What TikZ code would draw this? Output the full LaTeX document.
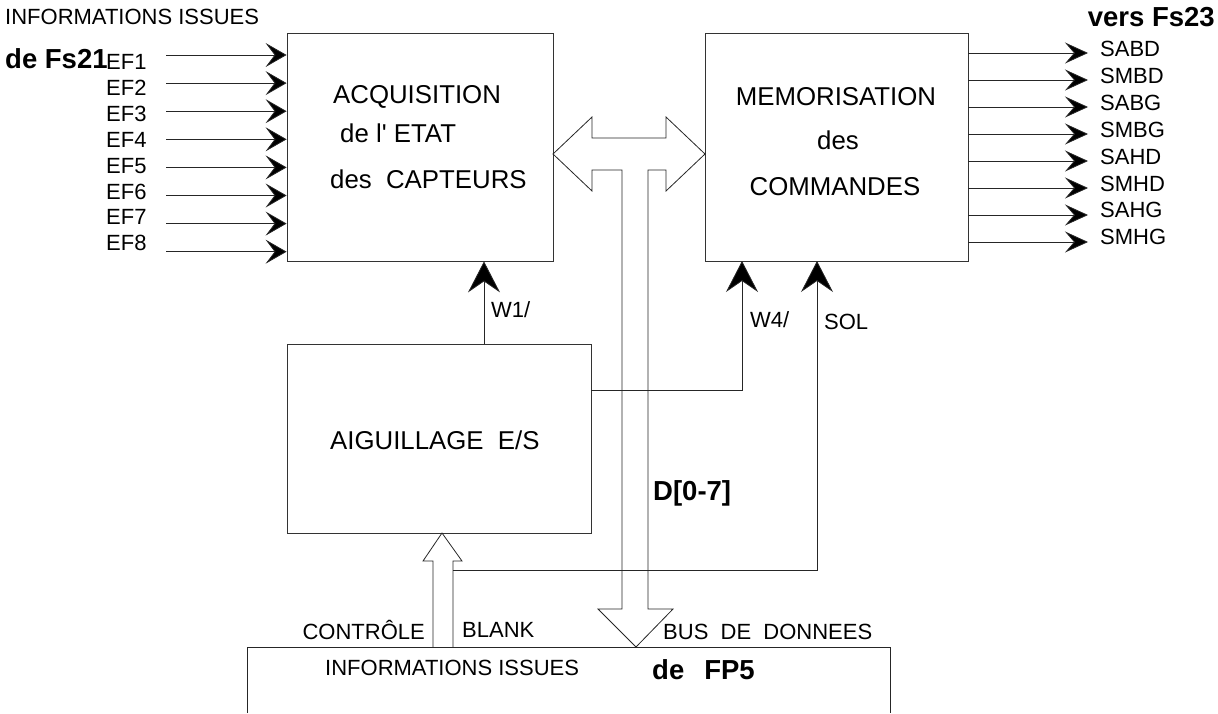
\documentclass[tikz,border=0pt]{standalone}
\usepackage{fontspec}
\setmainfont{Liberation Sans}
\usetikzlibrary{arrows.meta, positioning, calc}
\tikzset{
	blocknode/.style={
			rectangle,
			draw=black!80,
			line width=0.8pt,
			inner sep=0pt
		},
	labelnode/.style={
			inner sep=0pt,
			font=\fontsize{22}{26}\selectfont
		},
	blocktext/.style={
			inner sep=0pt,
			font=\fontsize{25.8}{30}\selectfont
		},
	titlenode/.style={
			inner sep=0pt,
			font=\bfseries\fontsize{27.5}{30}\selectfont
		},
	wire/.style={
			draw=black!85,
			line width=0.8pt
		},
	inarrow/.style={
			wire,
			-{Stealth[length=21pt, width=24pt, inset=9pt, fill=black]}
		},
	outarrow/.style={
			wire,
			-{Stealth[length=23pt, width=21pt, inset=9pt, fill=black]}
		},
	uparrow/.style={
			wire,
			-{Stealth[length=31pt, width=32pt, inset=11pt, fill=black]}
		}
}

\begin{document}
\begin{tikzpicture}[x=1pt, y=-1pt]
\useasboundingbox (0,0) rectangle (1218,713);

% blocks
\node[blocknode, minimum width=266pt, minimum height=228pt] (acq) at (420,147) {};
\node[blocknode, minimum width=263pt, minimum height=228pt] (mem) at (836.5,147) {};
\node[blocknode, minimum width=304pt, minimum height=189pt] (aig) at (439,438.5) {};
\coordinate (fp5nw) at (247,647);
\coordinate (fp5ne) at (890,647);
\draw[wire] (fp5nw |- 0,713) -- (fp5nw) -- (fp5ne) -- (fp5ne |- 0,713);

\node[blocktext, anchor=west] (acqa) at (333,97) {ACQUISITION};
\node[blocktext, anchor=west] (acqb) at (340,133) {de l\textquotesingle\ ETAT};
\node[blocktext, anchor=west] (acqc) at (330,179) {des\ \ CAPTEURS};
\node[blocktext] (mema) at (836,97) {MEMORISATION};
\node[blocktext] (memb) at (838,140) {des};
\node[blocktext] (memc) at (835,187) {COMMANDES};
\node[blocktext, anchor=west] (aiga) at (330,440) {AIGUILLAGE\ \ E/S};

% inputs
\node[labelnode, anchor=west] (infotop) at (5,17) {INFORMATIONS ISSUES};
\node[titlenode, anchor=west] (fs21) at (5,59) {de Fs21};
\foreach \i in {1,...,8}{
  \coordinate (ef\i) at (166,{55+28.1*(\i-1)});
  \draw[inarrow] (ef\i) -- (ef\i -| acq.west);
  \node[labelnode, anchor=west] (eflab\i) at (106,{62+25.9*(\i-1)}) {EF\i};
}

% outputs
\node[titlenode, anchor=east] (fs23) at (1215,17) {vers Fs23};
\foreach \s [count=\i from 0] in {SABD,SMBD,SABG,SMBG,SAHD,SMHD,SAHG,SMHG}{
  \coordinate (out\i) at (1088,{53+27*\i});
  \draw[outarrow] (out\i -| mem.east) -- (out\i);
  \node[labelnode, anchor=west] (outlab\i) at (1100,{49+26.9*\i}) {\s};
}

% selects
\coordinate (w1) at (484,344);
\draw[uparrow] (w1) -- (w1 |- acq.south);
\node[labelnode, anchor=west] (w1lab) at (491,310) {W1/};

\coordinate (w4) at (591,390);
\coordinate (w4top) at (742,261);
\draw[uparrow] (w4) -| (w4top);
\node[labelnode, anchor=west] (w4lab) at (750,320) {W4/};

\coordinate (sol) at (453,570);
\coordinate (soltop) at (817,261);
\draw[uparrow] (sol) -| (soltop);
\node[labelnode, anchor=west] (sollab) at (824,322) {SOL};

% control arrow
\draw[wire] (433,647) -- (433,561) -- (423,561) -- (442,533)
  -- (462,561) -- (453,561) -- (453,647);
\node[labelnode, anchor=east] (ctrl) at (425,630) {CONTRÔLE};
\node[labelnode, anchor=west] (blank) at (462,630) {BLANK};

% data bus
\draw[wire] (553,154) -- (592,117) -- (592,138) -- (666,138) -- (666,117)
  -- (705,154) -- (666,191) -- (666,170) -- (648,170) -- (648,609)
  -- (673,609) -- (636,647) -- (598,609) -- (622,609) -- (622,170)
  -- (592,170) -- (592,191) -- cycle;
\node[titlenode, anchor=west] (bus) at (653,493) {D[0-7]};
\node[labelnode, anchor=west] (buslab) at (663,632) {BUS\ \ DE\ \ DONNEES};

\node[labelnode, anchor=west] (infobot) at (325,668) {INFORMATIONS ISSUES};
\node[titlenode, anchor=west] (fp5) at (652,670) {de\hspace{20pt}FP5};

\end{tikzpicture}
\end{document}
